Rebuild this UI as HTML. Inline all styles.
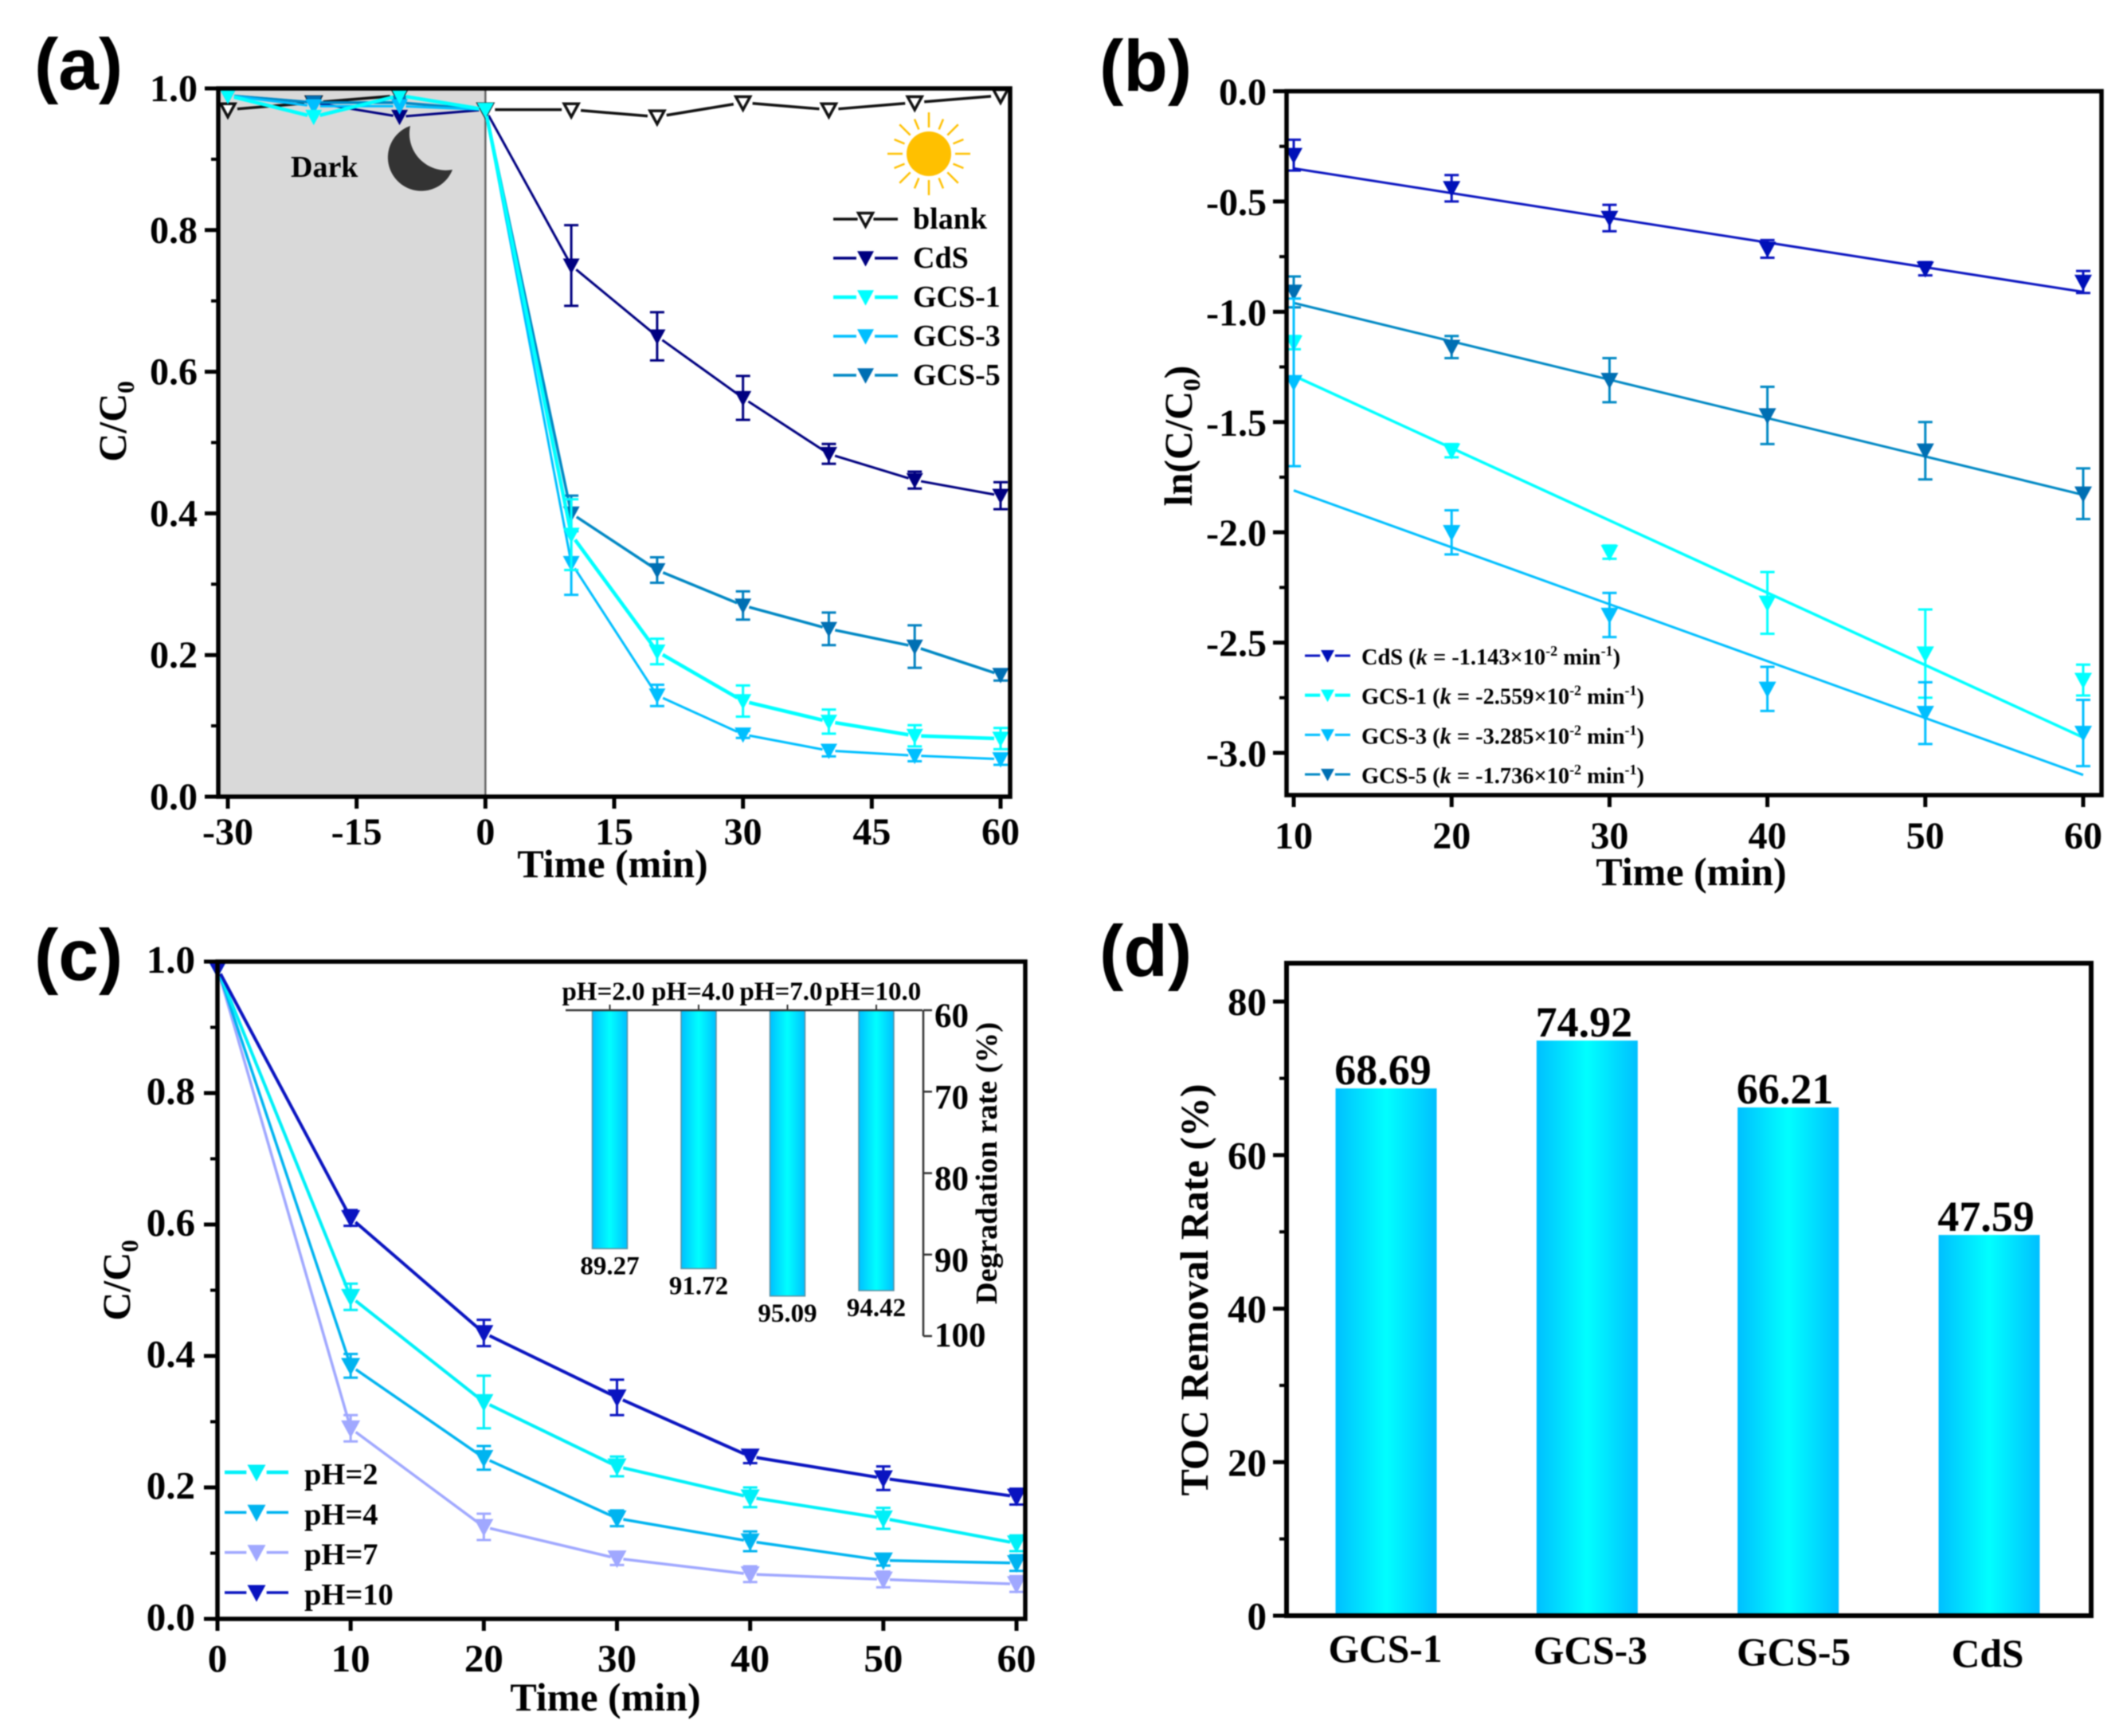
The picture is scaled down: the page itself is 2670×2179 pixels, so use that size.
<!DOCTYPE html>
<html lang="en">
<head>
<meta charset="utf-8">
<title>Photocatalytic degradation figure</title>
<style>
html,body{margin:0;padding:0;background:#fff;width:2670px;height:2179px;overflow:hidden}
svg{display:block;filter:blur(0.9px)}
text{font-family:"Liberation Serif",serif;font-weight:bold;fill:#000}
</style>
</head>
<body>
<svg id="fig" xmlns="http://www.w3.org/2000/svg" width="2670" height="2179" viewBox="0 0 2670 2179">
<defs>
<linearGradient id="barGrad" x1="0" x2="1" y1="0" y2="0">
<stop offset="0" stop-color="#00bfff"/><stop offset="0.5" stop-color="#00ffff"/><stop offset="1" stop-color="#00bfff"/>
</linearGradient>
</defs>
</svg>
<script>
/* ---------- panel (a) data ---------- */
const aTime = [-30,-20,-10,0,10,20,30,40,50,60];
const aBlank = [0.97,0.98,0.99,0.97,0.97,0.96,0.98,0.97,0.98,0.99];
const aCdS = [0.99,0.98,0.96,0.97,0.75,0.65,0.563,0.484,0.447,0.425];
const aCdSErr = [0,0,0,0,0.057,0.034,0.031,0.014,0.012,0.019];
const aGCS1 = [0.99,0.96,0.99,0.97,0.37,0.205,0.135,0.106,0.086,0.082];
const aGCS1Err = [0,0,0,0,0.05,0.018,0.022,0.017,0.015,0.015];
const aGCS3 = [0.99,0.975,0.975,0.97,0.33,0.143,0.088,0.065,0.058,0.053];
const aGCS3Err = [0,0,0,0,0.045,0.015,0.005,0.008,0.008,0.008];
const aGCS5 = [0.99,0.98,0.98,0.97,0.40,0.32,0.27,0.237,0.212,0.172];
const aGCS5Err = [0,0,0,0,0.025,0.018,0.02,0.023,0.03,0.008];
const aXTicks = [-30,-15,0,15,30,45,60];
const aYTicks = ["0.0","0.2","0.4","0.6","0.8","1.0"];
const aLegend = ["blank","CdS","GCS-1","GCS-3","GCS-5"];

/* ---------- panel (b) data ---------- */
const bTime = [10,20,30,40,50,60];
const bCdS = [-0.29,-0.44,-0.575,-0.715,-0.805,-0.865];
const bCdSErr = [0.07,0.06,0.06,0.04,0.03,0.05];
const bGCS1 = [-1.14,-1.63,-2.09,-2.32,-2.55,-2.67];
const bGCS1Err = [0.03,0.03,0.03,0.14,0.2,0.07];
const bGCS3 = [-1.32,-2.0,-2.375,-2.71,-2.82,-2.91];
const bGCS3Err = [0.38,0.1,0.1,0.1,0.14,0.15];
const bGCS5 = [-0.91,-1.16,-1.31,-1.47,-1.63,-1.825];
const bGCS5Err = [0.07,0.05,0.1,0.13,0.13,0.115];
const bFitTime = [10,60];
const bFitCdS = [-0.35,-0.91];
const bFitGCS1 = [-1.29,-2.93];
const bFitGCS3 = [-1.81,-3.10];
const bFitGCS5 = [-0.96,-1.83];
const bXTicks = [10,20,30,40,50,60];
const bYTicks = ["0.0","-0.5","-1.0","-1.5","-2.0","-2.5","-3.0"];
const bLegendNames = ["CdS","GCS-1","GCS-3","GCS-5"];
const bLegendK = ["-1.143","-2.559","-3.285","-1.736"];

/* ---------- panel (c) data ---------- */
const cTime = [0,10,20,30,40,50,60];
const cPH2 = [0.99,0.49,0.33,0.232,0.185,0.153,0.115];
const cPH2Err = [0,0.02,0.04,0.015,0.015,0.016,0.012];
const cPH4 = [0.99,0.385,0.245,0.153,0.118,0.089,0.085];
const cPH4Err = [0,0.018,0.018,0.012,0.015,0.008,0.012];
const cPH7 = [0.99,0.29,0.14,0.092,0.068,0.06,0.053];
const cPH7Err = [0,0.02,0.02,0.01,0.012,0.012,0.012];
const cPH10 = [0.99,0.61,0.435,0.337,0.247,0.214,0.186];
const cPH10Err = [0,0.012,0.02,0.027,0.01,0.018,0.012];
const cXTicks = [0,10,20,30,40,50,60];
const cYTicks = ["0.0","0.2","0.4","0.6","0.8","1.0"];
const cLegend = ["pH=2","pH=4","pH=7","pH=10"];
const insetCats = ["pH=2.0","pH=4.0","pH=7.0","pH=10.0"];
const insetValues = [89.27,91.72,95.09,94.42];
const insetTicks = [60,70,80,90,100];

/* ---------- panel (d) data ---------- */
const dCats = ["GCS-1","GCS-3","GCS-5","CdS"];
const dBarValues = [68.69,74.92,66.21,49.6];
const dBarLabels = ["68.69","74.92","66.21","47.59"];
const dYTicks = [0,20,40,60,80];

/* ---------- helpers ---------- */
const NS = "http://www.w3.org/2000/svg";
const root = document.getElementById("fig");
function mk(parent, tag, attrs, name) {
  const n = document.createElementNS(NS, tag);
  for (const k in attrs) n.setAttribute(k, attrs[k]);
  
  
  parent.appendChild(n);
  return n;
}
function linear(d0, d1, r0, r1) { return v => r0 + (v - d0) * (r1 - r0) / (d1 - d0); }
function txt(parent, s, x, y, size, name, anchor) {
  const t = mk(parent, "text", {x:x, y:y, "font-size":size, "text-anchor":anchor||"start"}, name);
  t.textContent = s;
  return t;
}
function vtxt(parent, s, sub, x, y, size, name, after) {
  const t = mk(parent, "text", {transform:"translate("+x+","+y+") rotate(-90)", "font-size":size, "text-anchor":"middle"}, name);
  t.appendChild(document.createTextNode(s));
  if (sub) {
    const ts = document.createElementNS(NS, "tspan");
    ts.setAttribute("font-size", size*0.62);
    ts.setAttribute("dy", size*0.2);
    ts.textContent = sub;
    t.appendChild(ts);
  }
  if (after) {
    const ta = document.createElementNS(NS, "tspan");
    ta.setAttribute("dy", -size*0.2);
    ta.textContent = after;
    t.appendChild(ta);
  }
  return t;
}
function seg(parent, x1, y1, x2, y2, color, w, name) {
  return mk(parent, "line", {x1:x1, y1:y1, x2:x2, y2:y2, stroke:color, "stroke-width":w}, name);
}
function tri(parent, cx, cy, size, fill, stroke, sw, name) {
  const h = size*0.92;
  const p = (cx-size/2)+","+(cy-h*0.45)+" "+(cx+size/2)+","+(cy-h*0.45)+" "+cx+","+(cy+h*0.55);
  return mk(parent, "polygon", {points:p, fill:fill, stroke:stroke||"none", "stroke-width":sw||0, "stroke-linejoin":"miter"}, name);
}
function frame(parent, L, R, T, B, w, name) {
  mk(parent, "rect", {x:L, y:T, width:R-L, height:B-T, fill:"none", stroke:"#000", "stroke-width":w}, name);
}
function series(parent, xs, ys, errs, xf, yf, o) {
  const g = mk(parent, "g", {}, o.name);
  const px = xs.map(xf), py = ys.map(yf);
  if (o.line !== false) {
    for (let i = 0; i < xs.length-1; i++) {
      const dx = px[i+1]-px[i], dy = py[i+1]-py[i], L = Math.hypot(dx,dy);
      const gap = Math.min(o.gap, L/2);
      seg(g, px[i]+dx/L*gap, py[i]+dy/L*gap, px[i+1]-dx/L*gap, py[i+1]-dy/L*gap, o.color, o.lw, o.name+"-line");
    }
  }
  if (errs) {
    xs.forEach((_, i) => {
      if (!errs[i]) return;
      const y1 = yf(ys[i]+errs[i]), y2 = yf(ys[i]-errs[i]);
      seg(g, px[i], y1, px[i], y2, o.err||o.color, 3, o.name+"-error-bar");
      seg(g, px[i]-9, y1, px[i]+9, y1, o.err||o.color, 3, o.name+"-error-cap");
      seg(g, px[i]-9, y2, px[i]+9, y2, o.err||o.color, 3, o.name+"-error-cap");
    });
  }
  xs.forEach((_, i) => tri(g, px[i], py[i], o.size, o.mfill||o.color, o.mstroke, o.msw, o.name+"-marker"));
}
function legendRow(parent, x1, x2, y, color, lw, mfill, size, mstroke, msw, name) {
  const g = mk(parent, "g", {}, name);
  const c = (x1+x2)/2, gap = size*0.55;
  seg(g, x1, y, c-gap, y, color, lw, name+"-line");
  seg(g, c+gap, y, x2, y, color, lw, name+"-line");
  tri(g, c, y, size, mfill, mstroke, msw, name+"-marker");
  return g;
}

/* ---------- panel (a) ---------- */
(function(){
  const L=274,R=1268,T=111,B=1000;
  const x=linear(-30,60,286,1256), y=linear(0,1,B,T);
  const p=mk(root,"g",{},"panel-a");
  txt(p,"(a)",43,112,91,"panel-a-label").style.fontFamily='"Liberation Sans",sans-serif';
  mk(p,"rect",{x:L,y:T,width:x(0)-L,height:B-T,fill:"#d9d9d9"},"dark-region");
  seg(p,x(0),T,x(0),B,"#666",2.5,"light-on-divider");
  txt(p,"Dark",365,222,38,"dark-label");
  mk(p,"path",{d:"M515 158 A42 42 0 1 0 568 213 A46 46 0 0 1 515 158 Z",fill:"#333"},"moon-icon");
  const sun=mk(p,"g",{},"sun-icon");
  for(let i=0;i<16;i++){
    const a=i*Math.PI/8, r2=i%2?47:52;
    seg(sun,1166+33*Math.cos(a),193+33*Math.sin(a),1166+r2*Math.cos(a),193+r2*Math.sin(a),"#ffc000",2.5,"sun-ray");
  }
  mk(sun,"circle",{cx:1166,cy:193,r:28,fill:"#ffc000"},"sun-disc");
  series(p,aTime,aBlank,null,x,y,{name:"series-blank",color:"#111",lw:3.5,size:18,mfill:"#fff",mstroke:"#111",msw:3.5,gap:12});
  series(p,aTime,aCdS,aCdSErr,x,y,{name:"series-cds",color:"#000080",lw:3,size:21,gap:8});
  series(p,aTime,aGCS5,aGCS5Err,x,y,{name:"series-gcs-5",color:"#0088c4",mfill:"#006fb3",err:"#0080c0",lw:3.5,size:21,gap:8});
  series(p,aTime,aGCS3,aGCS3Err,x,y,{name:"series-gcs-3",color:"#00bfff",lw:3,size:21,gap:8});
  series(p,aTime,aGCS1,aGCS1Err,x,y,{name:"series-gcs-1",color:"#00ffff",lw:4.5,size:21,gap:8});
  frame(p,L,R,T,B,5.5,"plot-frame-a");
  aYTicks.forEach(s=>{
    const v=parseFloat(s);
    seg(p,L-17,y(v),L,y(v),"#000",5,"y-tick");
    txt(p,s,248,y(v)+16,48,"y-tick-label","end");
    if(v<1) seg(p,L-9,y(v+0.1),L,y(v+0.1),"#000",4,"y-minor-tick");
  });
  aXTicks.forEach(v=>{
    seg(p,x(v),B,x(v),B+15,"#000",5,"x-tick");
    txt(p,String(v),x(v),1060,48,"x-tick-label","middle");
  });
  txt(p,"Time (min)",769,1101,50,"x-axis-title","middle");
  vtxt(p,"C/C","0",158,529,50,"y-axis-title");
  const cols=["#111","#000080","#00ffff","#00bfff","#0088c4"];
  const fills=["#fff","#000080","#00ffff","#00bfff","#006fb3"];
  const ly=linear(0,4,275,471);
  aLegend.forEach((s,i)=>{
    legendRow(p,1046,1127,ly(i),cols[i],i==2?4.5:3.5,fills[i],i==0?18:21,i==0?"#111":null,i==0?3.5:0,"legend-entry-"+s.toLowerCase());
    txt(p,s,1146,ly(i)+12,38,"legend-label");
  });
})();

/* ---------- panel (b) ---------- */
(function(){
  const L=1615,R=2638,T=114.5,B=998;
  const x=linear(10,60,1624,2615), y=linear(0,-3,T,945);
  const p=mk(root,"g",{},"panel-b");
  txt(p,"(b)",1380,114,91,"panel-b-label").style.fontFamily='"Liberation Sans",sans-serif';
  const cols=["#0a14c0","#00ffff","#00bfff","#0088c4"];
  const fills=["#0010b8","#00ffff","#00bfff","#006fb3"];
  const datas=[[bCdS,bCdSErr,bFitCdS],[bGCS5,bGCS5Err,bFitGCS5],[bGCS1,bGCS1Err,bFitGCS1],[bGCS3,bGCS3Err,bFitGCS3]];
  const idx=[0,3,1,2];
  datas.forEach((d,k)=>{
    const c=cols[idx[k]], f=fills[idx[k]], nm=["cds","gcs-5","gcs-1","gcs-3"][k];
    seg(p,x(bFitTime[0]),y(d[2][0]),x(bFitTime[1]),y(d[2][1]),c,nm=="gcs-1"?3.5:3,"fit-line-"+nm);
    series(p,bTime,d[0],d[1],x,y,{name:"series-"+nm,color:c,mfill:f,lw:3,size:22,gap:8,line:false});
  });
  frame(p,L,R,T,B,5.5,"plot-frame-b");
  bYTicks.forEach(s=>{
    const v=parseFloat(s);
    seg(p,L-17,y(v),L,y(v),"#000",5,"y-tick");
    txt(p,s,1590,y(v)+17,48,"y-tick-label","end");
    if(v>-3) seg(p,L-9,y(v-0.25),L,y(v-0.25),"#000",4,"y-minor-tick");
  });
  bXTicks.forEach(v=>{
    seg(p,x(v),B,x(v),B+15,"#000",5,"x-tick");
    txt(p,String(v),x(v),1065,48,"x-tick-label","middle");
  });
  txt(p,"Time (min)",2123,1111,50,"x-axis-title","middle");
  vtxt(p,"ln(C/C","0",1496,547,50,"y-axis-title",")");
  const ly=linear(0,3,823,972);
  bLegendNames.forEach((s,i)=>{
    legendRow(p,1638,1695,ly(i),cols[i],i==1?4:3,fills[i],17,null,0,"legend-entry-"+s.toLowerCase());
    const t=txt(p,s+" (",1709,ly(i)+11,28.4,"legend-label");
    const add=(str,opt)=>{
      const ts=document.createElementNS(NS,"tspan");
      if(opt&&opt.it) ts.setAttribute("font-style","italic");
      if(opt&&opt.sup){ts.setAttribute("font-size","18");ts.setAttribute("dy","-11");}
      if(opt&&opt.down) ts.setAttribute("dy","11");
      ts.textContent=str;
      t.appendChild(ts);
    };
    add("k",{it:1});
    add(" = "+bLegendK[i]+"×10");
    add("-2",{sup:1});
    add(" min",{down:1});
    add("-1",{sup:1});
    add(")",{down:1});
  });
})();

/* ---------- panel (c) ---------- */
(function(){
  const L=273,R=1287,T=1207,B=2032;
  const x=linear(0,60,273,1276), y=linear(0,1,B,T);
  const p=mk(root,"g",{},"panel-c");
  txt(p,"(c)",43,1230,91,"panel-c-label").style.fontFamily='"Liberation Sans",sans-serif';
  const cols=["#00f0f8","#00b4f0","#a0a8ff","#0a14c0"];
  series(p,cTime,cPH7,cPH7Err,x,y,{name:"series-ph-7",color:cols[2],lw:3.5,size:24,gap:8});
  series(p,cTime,cPH4,cPH4Err,x,y,{name:"series-ph-4",color:cols[1],lw:3.5,size:24,gap:8});
  series(p,cTime,cPH2,cPH2Err,x,y,{name:"series-ph-2",color:cols[0],lw:4,size:24,gap:8});
  series(p,cTime,cPH10,cPH10Err,x,y,{name:"series-ph-10",color:cols[3],lw:4,size:24,gap:8});
  frame(p,L,R,T,B,5.5,"plot-frame-c");
  cYTicks.forEach(s=>{
    const v=parseFloat(s);
    seg(p,L-17,y(v),L,y(v),"#000",5,"y-tick");
    txt(p,s,245,y(v)+14,49,"y-tick-label","end");
    if(v<1) seg(p,L-9,y(v+0.1),L,y(v+0.1),"#000",4,"y-minor-tick");
  });
  cXTicks.forEach(v=>{
    seg(p,x(v),B,x(v),B+15,"#000",5,"x-tick");
    txt(p,String(v),x(v),2098,49,"x-tick-label","middle");
  });
  txt(p,"Time (min)",760,2147,50,"x-axis-title","middle");
  vtxt(p,"C/C","0",163,1607,50,"y-axis-title");
  const ly=linear(0,3,1848,1999);
  cLegend.forEach((s,i)=>{
    legendRow(p,282,362,ly(i),cols[i],i==0?4.5:3.5,cols[i],23,null,0,"legend-entry-"+s.toLowerCase());
    txt(p,s,382,ly(i)+15,38.5,"legend-label");
  });
  /* inset */
  const ins=mk(p,"g",{},"inset-chart");
  const iy=linear(60,100,1268,1677);
  const ix=linear(0,3,765.5,1100);
  const labelShift=[-8,-7,-8,-4];
  insetValues.forEach((v,i)=>{
    mk(ins,"rect",{x:ix(i)-22,y:iy(60),width:44,height:iy(v)-iy(60),fill:"url(#barGrad)",stroke:"#5f8f9f","stroke-width":1.5},"inset-bar-"+insetCats[i]);
    txt(ins,v.toFixed(2),ix(i),iy(v)+32,33,"inset-value-label","middle");
    seg(ins,ix(i),1261,ix(i),1268,"#333",2,"inset-x-tick");
    txt(ins,insetCats[i],ix(i)+labelShift[i],1255,33,"inset-x-label","middle");
  });
  seg(ins,710,1268,1158,1268,"#333",2.5,"inset-x-axis");
  seg(ins,1159,1268,1159,1677,"#333",2.5,"inset-y-axis");
  insetTicks.forEach(v=>{
    seg(ins,1159,iy(v),1170,iy(v),"#333",2.5,"inset-y-tick");
    txt(ins,String(v),1173,iy(v)+(v==100?13:21),43,"inset-y-label");
  });
  vtxt(ins,"Degradation rate (%)","",1251,1460,38.4,"inset-y-title");
})();

/* ---------- panel (d) ---------- */
(function(){
  const L=1615,R=2625,T=1209,B=2028;
  const y=linear(0,85,B,T);
  const x=linear(0,3,1740,2497);
  const catShift=[-1,4,7,-2];
  const p=mk(root,"g",{},"panel-d");
  txt(p,"(d)",1380,1225,91,"panel-d-label").style.fontFamily='"Liberation Sans",sans-serif';
  dBarValues.forEach((v,i)=>{
    mk(p,"rect",{x:x(i)-63.5,y:y(v),width:127,height:B-y(v),fill:"url(#barGrad)"},"bar-"+dCats[i].toLowerCase());
    txt(p,dBarLabels[i],x(i)-4,y(v)-5,54,"bar-value-label","middle");
    txt(p,dCats[i],x(i)+catShift[i],2086+i*2,49.5,"x-category-label","middle");
  });
  frame(p,L,R,T,B,6,"plot-frame-d");
  dYTicks.forEach(v=>{
    seg(p,L-17,y(v),L,y(v),"#000",5,"y-tick");
    txt(p,String(v),1590,y(v)+17,49,"y-tick-label","end");
    if(v<80) seg(p,L-9,y(v+10),L,y(v+10),"#000",4,"y-minor-tick");
  });
  vtxt(p,"TOC Removal Rate (%)","",1516,1619,50,"y-axis-title");
})();
</script>
</body>
</html>
